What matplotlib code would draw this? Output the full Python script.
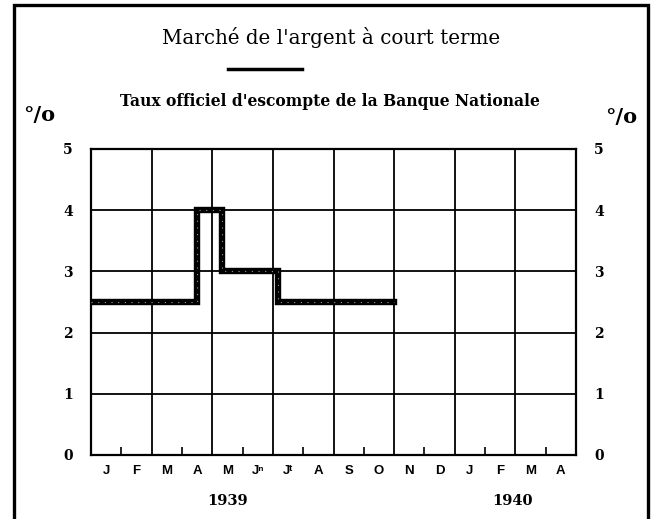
import matplotlib
matplotlib.use("Agg")
import matplotlib.pyplot as plt
import matplotlib.transforms as mtransforms
from matplotlib.patches import Rectangle

# month labels, Jan 1939 -> Apr 1940
months = ['J', 'F', 'M', 'A', 'M', 'Jⁿ', 'Jᵗ', 'A', 'S', 'O',
          'N', 'D', 'J', 'F', 'M', 'A']
years = ['1939', '1940']
year_pos = [4.5, 13.9]  # in months from Jan 1939

# discount rate (%), change points in months from Jan 1939
change_dates = [0, 3.5, 4.33, 6.17, 10.0]
rates = [2.5, 4.0, 3.0, 2.5, 2.5]

y_ticks = [0, 1, 2, 3, 4, 5]

plt.rcParams['font.family'] = ['DejaVu Serif']

fig = plt.figure(figsize=(6.57, 5.19), dpi=100)
ax = fig.add_axes([91/657, 64/519, 485/657, 306/519])

n = len(months)
ax.set_xlim(0, n)
ax.set_ylim(0, 5)

# grid: every two months, every percent
for x in range(2, n, 2):
    ax.axvline(x, color='black', lw=1.3)
for y in y_ticks[1:-1]:
    ax.axhline(y, color='black', lw=1.3)

# the rate
ax.step(change_dates, rates, where='post', color='black', lw=4.6,
        solid_joinstyle='miter', zorder=3)
ax.step(change_dates, rates, where='post', color='#9a9a9a', lw=0.8,
        ls=(0, (1, 5)), zorder=4)

for s in ax.spines.values():
    s.set_linewidth(1.6)

# labels at month centres, small ticks between months
ax.set_xticks([i + 0.5 for i in range(n)])
ax.set_xticklabels(months, fontsize=9.5, fontweight='bold',
                   family=['Liberation Sans', 'DejaVu Sans'])
ax.set_xticks([i for i in range(1, n, 2)], minor=True)
ax.tick_params(axis='x', which='major', length=0, pad=7)
ax.tick_params(axis='x', which='minor', direction='in', length=6, width=1.2)

ax.set_yticks(y_ticks)
ax.set_yticklabels([str(v) for v in y_ticks], fontsize=10, fontweight='bold')
ax.tick_params(axis='y', length=0, pad=13, labelright=True)

trans = mtransforms.blended_transform_factory(ax.transData, ax.transAxes)
for yr, xp in zip(years, year_pos):
    ax.text(xp, -0.15, yr, transform=trans, ha='center', va='center',
            fontsize=10.5, fontweight='bold')

# titles
fig.text(331/657, 1 - 37/519, "Marché de l'argent à court terme",
         ha='center', va='center', fontsize=14.3)
fig.add_artist(plt.Line2D([228/657, 302/657], [1 - 69/519, 1 - 69/519],
                          color='black', lw=2.5))
fig.text(330/657, 1 - 101/519, "Taux officiel d'escompte de la Banque Nationale",
         ha='center', va='center', fontsize=11.2, fontweight='bold')

fig.text(39/657, 1 - 115/519, '°/o', ha='center', va='center',
         fontsize=15, fontweight='bold')
fig.text(621/657, 1 - 117/519, '°/o', ha='center', va='center',
         fontsize=15, fontweight='bold')

# outer frame
fig.add_artist(Rectangle((14/657, -0.05), 634/657, 1.05 - 5/519,
                         transform=fig.transFigure, fill=False,
                         edgecolor='black', lw=2.4))

fig.savefig('out.png', dpi=100)
